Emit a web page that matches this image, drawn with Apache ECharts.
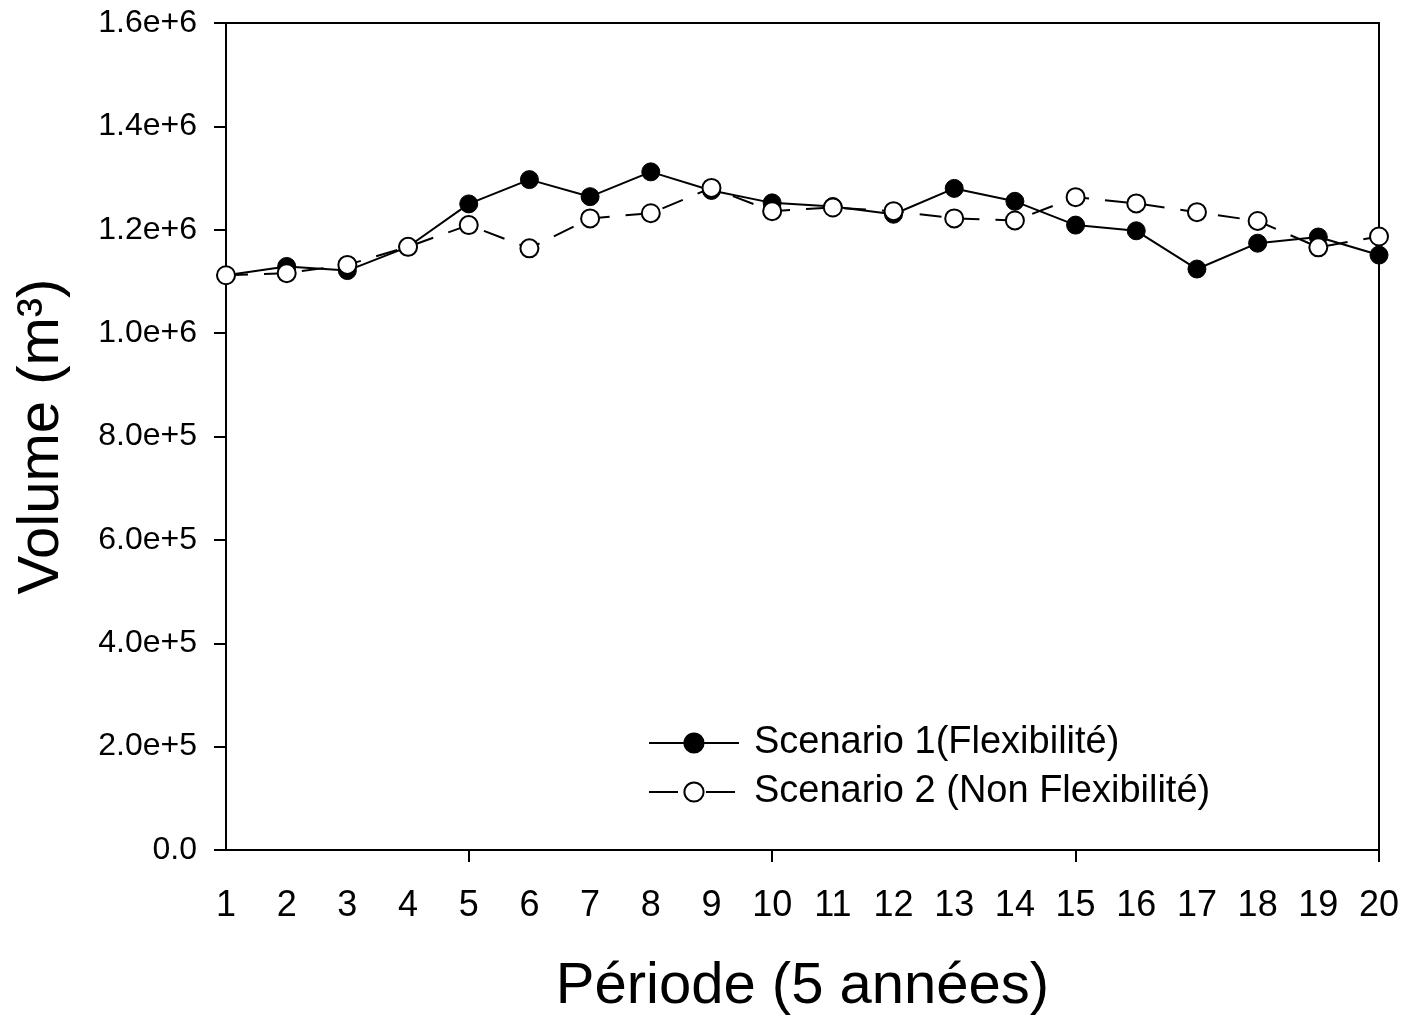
<!DOCTYPE html>
<html>
<head>
<meta charset="utf-8">
<script src="https://cdn.jsdelivr.net/npm/echarts@6/dist/echarts.min.js"></script>
<style>
html,body{margin:0;padding:0;background:#fff;}
#chart{width:1406px;height:1021px;}
</style>
</head>
<body>
<div id="chart"></div>
<script>
const periods = ['1','2','3','4','5','6','7','8','9','10','11','12','13','14','15','16','17','18','19','20'];
const scenario1 = [1112000, 1129000, 1121000, 1167000, 1250000, 1297000, 1264000, 1312000, 1276000, 1252000,
                   1245000, 1230000, 1280000, 1255000, 1209000, 1198000, 1124000, 1174000, 1186000, 1151000];
const scenario2 = [1112000, 1116000, 1132000, 1167000, 1209000, 1164000, 1222000, 1232000, 1281000, 1236000,
                   1243000, 1236000, 1222000, 1218000, 1263000, 1251000, 1234000, 1217000, 1166000, 1187000];
const yTickLabels = ['0.0','2.0e+5','4.0e+5','6.0e+5','8.0e+5','1.0e+6','1.2e+6','1.4e+6','1.6e+6'];
const seriesNames = ['Scenario 1(Flexibilité)', 'Scenario 2 (Non Flexibilité)'];

const FONT = '"Liberation Sans", Arial, sans-serif';
const chart = echarts.init(document.getElementById('chart'), null, {renderer: 'canvas'});
chart.setOption({
  animation: false,
  backgroundColor: '#fff',
  grid: {left: 226, right: 27, top: 23, bottom: 168, show: true, borderColor: '#000', borderWidth: 2, backgroundColor: 'transparent'},
  legend: {
    orient: 'vertical', left: 643, top: 719,
    itemWidth: 90, itemHeight: 24, itemGap: 11,
    textStyle: {fontFamily: FONT, fontSize: 38, color: '#000', padding: [0,0,0,10]},
    data: [
      {name: seriesNames[0], lineStyle: {width: 2, type: 'solid'}},
      {name: seriesNames[1], lineStyle: {width: 2, type: [29, 28]}}
    ]
  },
  xAxis: {
    type: 'category', data: periods, boundaryGap: false,
    name: 'Période (5 années)', nameLocation: 'middle', nameGap: 108,
    nameTextStyle: {fontFamily: FONT, fontSize: 58, color: '#000'},
    axisLine: {lineStyle: {color: '#000', width: 2}},
    axisTick: {show: true, length: 12, lineStyle: {color: '#000', width: 2},
               interval: function (idx) { return (idx + 1) % 5 === 0; }},
    axisLabel: {interval: 0, fontFamily: FONT, fontSize: 36, color: '#000', margin: 38},
    splitLine: {show: false}
  },
  yAxis: {
    type: 'value', min: 0, max: 1600000, interval: 200000,
    name: 'Volume (m³)', nameLocation: 'middle', nameGap: 155, nameRotate: 90,
    nameTextStyle: {fontFamily: FONT, fontSize: 58, color: '#000'},
    axisLine: {show: true, lineStyle: {color: '#000', width: 2}},
    axisTick: {show: true, length: 12, lineStyle: {color: '#000', width: 2}},
    axisLabel: {fontFamily: FONT, fontSize: 32, color: '#000', margin: 29,
                formatter: function (v) { return yTickLabels[Math.round(v / 200000)]; }},
    splitLine: {show: false}
  },
  series: [
    {
      name: seriesNames[0], type: 'line', data: scenario1,
      symbol: 'circle', symbolSize: 18, z: 2,
      lineStyle: {color: '#000', width: 2, type: 'solid'},
      itemStyle: {color: '#000', borderColor: '#000', borderWidth: 1}
    },
    {
      name: seriesNames[1], type: 'line', data: scenario2,
      symbol: 'circle', symbolSize: 18, z: 3,
      lineStyle: {color: '#000', width: 2, type: [22, 16]},
      itemStyle: {color: '#fff', borderColor: '#000', borderWidth: 2}
    }
  ]
});
</script>
</body>
</html>
